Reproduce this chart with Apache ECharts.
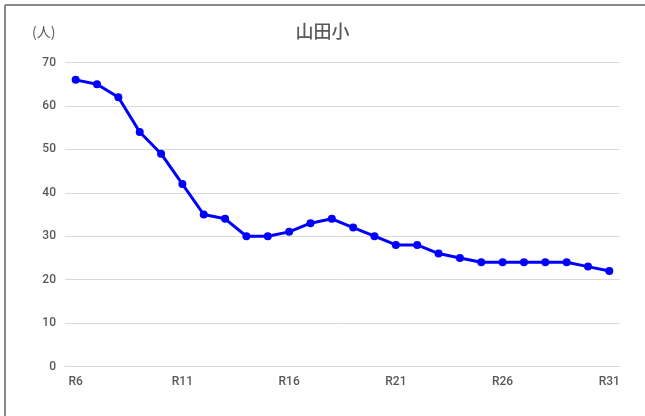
<!DOCTYPE html>
<html><head><meta charset="utf-8">
<script src="https://cdn.jsdelivr.net/npm/echarts@6/dist/echarts.min.js"></script>
<style>html,body{margin:0;padding:0;background:#fff}#c{width:645px;height:416px}</style>
</head><body><div id="c"></div>
<script>
const categories = ['R6','R7','R8','R9','R10','R11','R12','R13','R14','R15','R16','R17','R18','R19','R20','R21','R22','R23','R24','R25','R26','R27','R28','R29','R30','R31'];
const students = [66,65,62,54,49,42,35,34,30,30,31,33,34,32,30,28,28,26,25,24,24,24,24,24,23,22];
const yTicks = [0,10,20,30,40,50,60,70];
const titleText = '山田小';
const unitText = '(人)';

const chart = echarts.init(document.getElementById('c'), null, {renderer:'canvas'});
chart.setOption({
  animation:false,
  backgroundColor:'#fff',
  title:{text:titleText,left:'center',top:22,padding:0,
    textStyle:{fontSize:18,fontWeight:500,color:'#595959',fontFamily:'"Noto Sans CJK JP", sans-serif'}},
  graphic:[
    {type:'line',shape:{x1:5,y1:5,x2:645,y2:5},style:{stroke:'#8a8a8a',lineWidth:2}},
    {type:'line',shape:{x1:5,y1:5,x2:5,y2:416},style:{stroke:'#8a8a8a',lineWidth:2}},
    {type:'text',left:32,top:25,style:{text:unitText,fontSize:14,fill:'#595959',fontFamily:'"Noto Sans CJK JP", sans-serif'}}
  ],
  grid:{left:65,right:25,top:62.5,bottom:49.5},
  xAxis:{type:'category',data:categories,boundaryGap:true,
    axisLine:{show:true,lineStyle:{color:'#d9d9d9',width:1}},
    axisTick:{show:false},
    axisLabel:{interval:4,color:'#595959',fontSize:12,fontWeight:500,margin:9,fontFamily:'Roboto, sans-serif'}},
  yAxis:{type:'value',min:yTicks[0],max:yTicks[yTicks.length-1],interval:10,
    axisLine:{show:false},axisTick:{show:false},
    axisLabel:{color:'#595959',fontSize:12,fontWeight:500,margin:9,fontFamily:'Roboto, sans-serif'},
    splitLine:{lineStyle:{color:'#d9d9d9',width:1}}},
  series:[{type:'line',data:students,
    lineStyle:{color:'#0000ff',width:3},
    itemStyle:{color:'#0000ff'},
    symbol:'circle',symbolSize:8,showSymbol:true}]
});
</script></body></html>
